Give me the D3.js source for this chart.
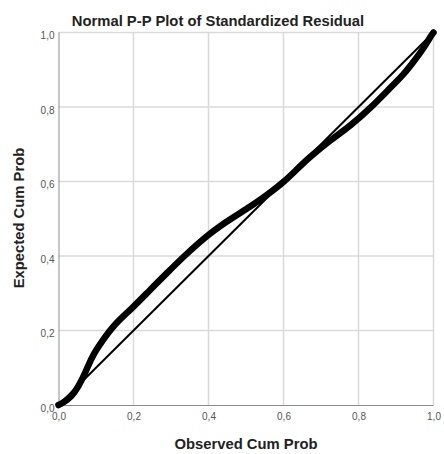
<!DOCTYPE html>
<html>
<head>
<meta charset="utf-8">
<title>Normal P-P Plot</title>
<script src="https://d3js.org/d3.v7.min.js"></script>
<style>
  body { margin: 0; background: #fff; }
  svg { display: block; font-family: "Liberation Sans", Arial, sans-serif; }
  .grid line { stroke: #dadada; stroke-width: 1.5; }
  .axis path, .axis line { stroke: #8c8c8c; }
  .axis text { fill: #555; font-size: 10px; }
</style>
</head>
<body>
<script>
// observed cumulative probability
var observed = [0, 0.01, 0.035, 0.053, 0.071, 0.089, 0.115, 0.151, 0.195, 0.245, 0.29, 0.333,
  0.402, 0.467, 0.511, 0.556, 0.6, 0.65, 0.672, 0.725, 0.778, 0.832, 0.885, 0.921, 0.947, 0.974, 0.992, 1];
// expected cumulative probability
var expected = [0, 0.005, 0.022, 0.049, 0.085, 0.13, 0.17, 0.219, 0.258, 0.31, 0.355, 0.398,
  0.461, 0.505, 0.532, 0.564, 0.597, 0.647, 0.667, 0.711, 0.749, 0.797, 0.852, 0.888, 0.922, 0.958, 0.989, 1];
var ticks = [0, 0.2, 0.4, 0.6, 0.8, 1.0];
var diagonal = [0, 1];

var W = 444, H = 454;
var margin = {top: 32.5, right: 10.5, bottom: 49, left: 58.5},
    width = W - margin.left - margin.right,
    height = H - margin.top - margin.bottom;

var svg = d3.select("body").append("svg")
    .attr("width", W)
    .attr("height", H);

var g = svg.append("g")
    .attr("transform", "translate(" + margin.left + "," + margin.top + ")");

var x = d3.scaleLinear().domain([0, 1]).range([0, width]);
var y = d3.scaleLinear().domain([0, 1]).range([height, 0]);

var fmt = function(d) { return d3.format(".1f")(d).replace(".", ","); };

// grid
g.append("g").attr("class", "grid")
  .selectAll("line").data(ticks.slice(1)).enter().append("line")
    .attr("x1", function(d) { return x(d); }).attr("x2", function(d) { return x(d); })
    .attr("y1", 0).attr("y2", height);
g.append("g").attr("class", "grid")
  .selectAll("line").data(ticks.slice(1)).enter().append("line")
    .attr("y1", function(d) { return y(d); }).attr("y2", function(d) { return y(d); })
    .attr("x1", 0).attr("x2", width);

// axes
var xAxis = g.append("g").attr("class", "axis")
    .attr("transform", "translate(0," + height + ")")
    .call(d3.axisBottom(x).tickValues(ticks).tickFormat(fmt).tickSize(0).tickPadding(8));
xAxis.select(".domain").attr("d", "M0,0.5H" + width);

var yAxis = g.append("g").attr("class", "axis")
    .call(d3.axisLeft(y).tickValues(ticks).tickFormat(fmt).tickSize(0).tickPadding(4));
yAxis.select(".domain").attr("d", "M0.5," + height + "V0");
yAxis.selectAll("text").attr("dy", "0.62em");

// reference line
g.append("path")
    .datum(diagonal)
    .attr("fill", "none")
    .attr("stroke", "#000")
    .attr("stroke-width", 2)
    .attr("d", d3.line().x(function(d) { return x(d); }).y(function(d) { return y(d); }));

// P-P curve
var pts = observed.map(function(o, i) { return [o, expected[i]]; });
g.append("path")
    .datum(pts)
    .attr("fill", "none")
    .attr("stroke", "#000")
    .attr("stroke-width", 6.5)
    .attr("stroke-linejoin", "round")
    .attr("stroke-linecap", "round")
    .attr("d", d3.line().curve(d3.curveBasis)
      .x(function(d) { return x(d[0]); }).y(function(d) { return y(d[1]); }));

// titles
svg.append("text")
    .attr("x", 218).attr("y", 26)
    .attr("text-anchor", "middle")
    .style("font-size", "14.8px").style("font-weight", "bold").style("fill", "#222")
    .text("Normal P-P Plot of Standardized Residual");

svg.append("text")
    .attr("x", 246).attr("y", 449)
    .attr("text-anchor", "middle")
    .style("font-size", "14.8px").style("font-weight", "bold").style("fill", "#222")
    .text("Observed Cum Prob");

svg.append("text")
    .attr("transform", "translate(24,218) rotate(-90)")
    .attr("text-anchor", "middle")
    .style("font-size", "14.8px").style("font-weight", "bold").style("fill", "#222")
    .text("Expected Cum Prob");
</script>
</body>
</html>
